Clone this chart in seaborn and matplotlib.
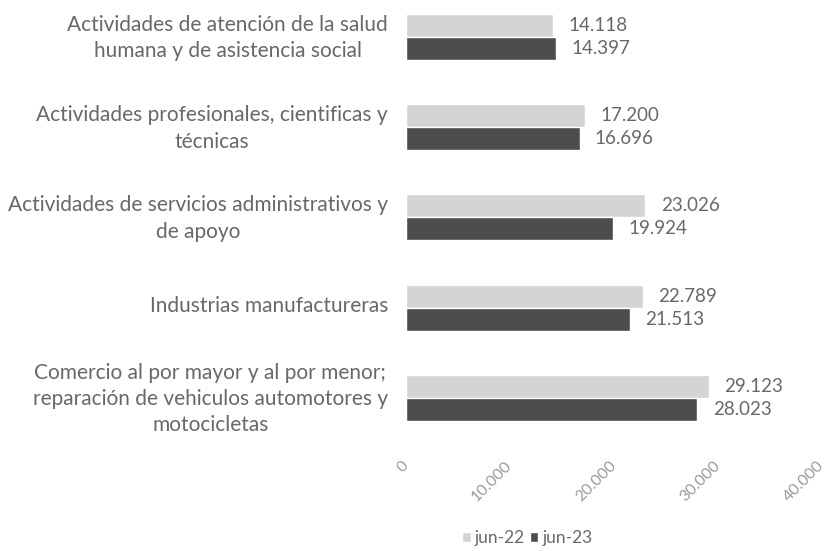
import matplotlib
matplotlib.use("Agg")
import matplotlib.pyplot as plt
import matplotlib.transforms as mtransforms
import seaborn as sns
import pandas as pd

categories = [
    "Actividades de atención de la salud\nhumana y de asistencia social",
    "Actividades profesionales, cientificas y\ntécnicas",
    "Actividades de servicios administrativos y\nde apoyo",
    "Industrias manufactureras",
    "Comercio al por mayor y al por menor;\nreparación de vehiculos automotores y\nmotocicletas",
]
jun22 = [14118, 17200, 23026, 22789, 29123]
jun23 = [14397, 16696, 19924, 21513, 28023]
series = ["jun-22", "jun-23"]
xticks = [0, 10000, 20000, 30000, 40000]

df = pd.DataFrame({
    "sector": categories * 2,
    "valor": jun22 + jun23,
    "serie": [series[0]] * len(categories) + [series[1]] * len(categories),
})

sns.set_theme(style="white")
plt.rcParams["font.family"] = ["Lato", "DejaVu Sans"]
txt = "#686868"

fig = plt.figure(figsize=(8.28, 5.51), dpi=100)
ax = fig.add_axes([0.4903, 0.196, 0.5024, 0.804])
sns.barplot(data=df, y="sector", x="valor", hue="serie", orient="h",
            palette=["#d4d4d4", "#4d4d4d"], width=0.51, ax=ax, legend=True)

fmt = lambda v: f"{v:,.0f}".replace(",", ".")
for cont in ax.containers:
    ax.bar_label(cont, labels=[fmt(v) for v in cont.datavalues], padding=11,
                 fontsize=13.5, color=txt)

ax.set_xlim(0, 40000)
ax.set_ylim(4.5, -0.41)
ax.set_xticks(xticks)
ax.set_xticklabels([fmt(v) for v in xticks], rotation=45, ha="right", va="center",
                   rotation_mode="anchor", fontsize=11.5, color="#9a9a9a")
shift = mtransforms.ScaledTranslation(4 / 100, 0, fig.dpi_scale_trans)
for lab in ax.get_xticklabels():
    lab.set_transform(lab.get_transform() + shift)
ax.tick_params(axis="x", pad=15, length=0)
ax.tick_params(axis="y", pad=13, length=0)
up = mtransforms.ScaledTranslation(0, 4 / 100, fig.dpi_scale_trans)
for lab in ax.get_yticklabels():
    lab.set_multialignment("center")
    lab.set_fontsize(15)
    lab.set_color(txt)
    lab.set_linespacing(1.4)
    lab.set_transform(lab.get_transform() + up)
ax.set_xlabel("")
ax.set_ylabel("")
for s in ax.spines.values():
    s.set_visible(False)

ax.legend_.remove()
handles, labels = ax.get_legend_handles_labels()
fig.legend(handles, labels, loc="center", bbox_to_anchor=(0.637, 0.024), ncol=2,
           frameon=False, handlelength=0.5, handleheight=0.5,
           handletextpad=0.25, columnspacing=0.25, labelcolor=txt,
           prop={"size": 12.5})

fig.savefig("out.png", dpi=100)
